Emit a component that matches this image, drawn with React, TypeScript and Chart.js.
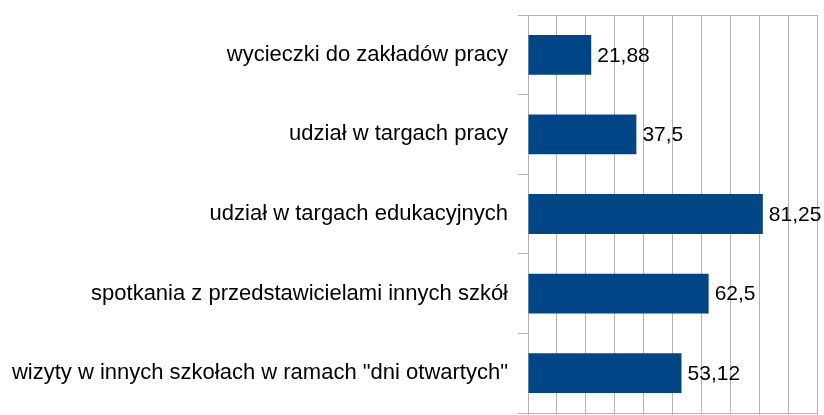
import React, { useEffect, useRef } from 'react';
import { Chart, registerables } from 'chart.js';

Chart.register(...registerables);

const categories: string[] = [
  'wycieczki do zakładów pracy',
  'udział w targach pracy',
  'udział w targach edukacyjnych',
  'spotkania z przedstawicielami innych szkół',
  'wizyty w innych szkołach w ramach "dni otwartych"',
];
const values: number[] = [21.88, 37.5, 81.25, 62.5, 53.12];
const valueLabels: string[] = ['21,88', '37,5', '81,25', '62,5', '53,12'];
const axisMin = 0;
const axisMax = 100;
const axisStep = 10;

const FONT = '"Liberation Sans", Arial, sans-serif';
const GRID = '#b3b3b3';
const BAR = '#004586';

const valueLabelPlugin = {
  id: 'valueLabels',
  afterDatasetsDraw(chart: any) {
    const ctx = chart.ctx;
    const meta = chart.getDatasetMeta(0);
    ctx.save();
    ctx.font = `21px ${FONT}`;
    ctx.fillStyle = '#000000';
    ctx.textAlign = 'left';
    ctx.textBaseline = 'middle';
    meta.data.forEach((bar: any, i: number) => {
      ctx.fillText(valueLabels[i], bar.x + 6, bar.y + 1);
    });
    ctx.restore();
  },
};

export default function App() {
  const canvasRef = useRef<HTMLCanvasElement | null>(null);

  useEffect(() => {
    document.body.style.margin = '0';
    const canvas = canvasRef.current;
    if (!canvas) return;
    const chart = new Chart(canvas, {
      type: 'bar',
      data: {
        labels: categories,
        datasets: [
          {
            data: values,
            backgroundColor: BAR,
            borderWidth: 0,
            categoryPercentage: 1,
            barPercentage: 0.5,
          },
        ],
      },
      options: {
        indexAxis: 'y',
        responsive: false,
        animation: false,
        devicePixelRatio: 1,
        layout: { padding: { left: 0, right: 7, top: 15, bottom: 0 } },
        plugins: {
          legend: { display: false },
          tooltip: { enabled: false },
          title: { display: false },
        },
        scales: {
          x: {
            min: axisMin,
            max: axisMax,
            ticks: { display: false, stepSize: axisStep },
            grid: {
              color: GRID,
              lineWidth: 1,
              drawTicks: true,
              tickLength: 2,
            },
            border: { display: true, color: GRID },
            afterFit: (scale: any) => {
              scale.paddingLeft = 0;
              scale.paddingRight = 0;
            },
          },
          y: {
            ticks: {
              color: '#000000',
              font: { family: FONT, size: 22 },
              padding: 10,
              autoSkip: false,
            },
            grid: {
              offset: true,
              drawOnChartArea: true,
              drawTicks: true,
              tickLength: 10,
              color: (c: any) => (c.index === 0 || c.type === 'scale' ? GRID : 'rgba(0,0,0,0)'),
              tickColor: GRID,
            },
            border: { display: true, color: GRID },
            afterFit: (scale: any) => {
              scale.width = 528;
              scale.paddingTop = 0;
              scale.paddingBottom = 0;
            },
          },
        },
      },
      plugins: [valueLabelPlugin],
    });
    return () => chart.destroy();
  }, []);

  return (
    <div style={{ position: 'absolute', left: 0, top: 0, width: 824, height: 415 }}>
      <canvas ref={canvasRef} width={824} height={415} />
    </div>
  );
}
